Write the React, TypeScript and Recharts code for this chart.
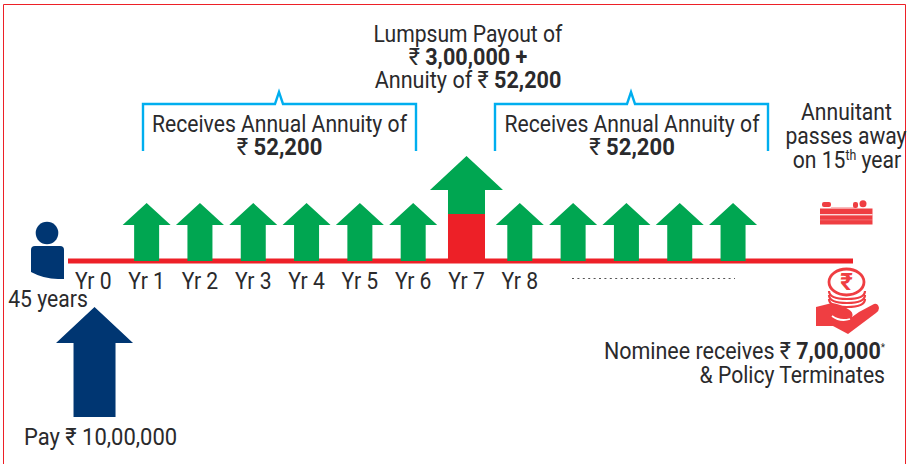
import { ComposedChart, Scatter, XAxis, YAxis } from "recharts";

const W = 911;
const H = 464;
const TEXT = "#2a2a2c";
const RED = "#ed2027";
const ICON_RED = "#ef3e42";
const GREEN = "#00a651";
const NAVY = "#003672";
const BLUE = "#00aeef";
const FONT = "Roboto, sans-serif";

// payout timeline
const annuityYears = [1, 2, 3, 4, 5, 6, 8, 9, 10, 11, 12];
const annuityValues = [52200, 52200, 52200, 52200, 52200, 52200, 52200, 52200, 52200, 52200, 52200];
const lumpsumYears = [7];
const lumpsumValues = [300000];
const lumpsumTotals = [352200];
const premiumYears = [0];
const premiumValues = [1000000];
const tickYears = [0, 1, 2, 3, 4, 5, 6, 7, 8];

const toRows = (xs: number[], ys: number[]) => xs.map((year, i) => ({ year, value: ys[i] }));

const BASE_Y = 261;
const PAY_TOP = 307;

function arrowPath(c: number, top: number, bottom: number, headW: number, headH: number, shaftW: number) {
  return [
    `M${c} ${top}`,
    `L${c + headW / 2} ${top + headH}`,
    `L${c + shaftW / 2} ${top + headH}`,
    `L${c + shaftW / 2} ${bottom}`,
    `L${c - shaftW / 2} ${bottom}`,
    `L${c - shaftW / 2} ${top + headH}`,
    `L${c - headW / 2} ${top + headH}`,
    "Z",
  ].join(" ");
}

// arrows standing on the timeline
function Arrow({ cx, cy, fill, headW, headH, shaftW }: any) {
  return <path d={arrowPath(cx, cy, BASE_Y, headW, headH, shaftW)} fill={fill} />;
}

// the premium hangs below the line, its length comes from the axis
function PayArrow({ cx, cy }: any) {
  return <path d={arrowPath(cx + 1.2, PAY_TOP, PAY_TOP + cy, 77, 36, 42)} fill={NAVY} />;
}

function Block({ cx, cy }: any) {
  return <rect x={cx - 18.5} y={cy} width={37} height={BASE_Y - cy} fill={RED} />;
}

function Caption({ x, y, sx = 0.88, size = 24, anchor = "middle", children }: any) {
  return (
    <text
      transform={`translate(${x} ${y}) scale(${sx} 1)`}
      textAnchor={anchor}
      fontFamily={FONT}
      fontSize={size}
      fill={TEXT}
    >
      {children}
    </text>
  );
}

const B = ({ children }: any) => <tspan fontWeight={700}>{children}</tspan>;

function YearTick({ x, y, payload }: any) {
  return <Caption x={x} y={y + 20}>{`Yr ${payload.value}`}</Caption>;
}

function Bracket({ d }: { d: string }) {
  return <path d={d} fill="none" stroke={BLUE} strokeWidth={2.4} />;
}

export default function App() {
  return (
    <div style={{ position: "fixed", left: 0, top: 0, width: W, height: H, background: "#fff" }}>
      <ComposedChart width={W} height={H} margin={{ top: 0, right: 58, bottom: 173, left: 68 }}>
        <XAxis
          dataKey="year"
          type="number"
          domain={[-0.475, 14.25]}
          ticks={tickYears}
          interval={0}
          height={30}
          tickLine={false}
          axisLine={{ stroke: RED, strokeWidth: 5 }}
          tick={<YearTick />}
        />
        <YAxis hide yAxisId="money" scale="log" domain={[4968, 4968 * Math.pow(10, 261 / 56.77)]} />
        <YAxis hide yAxisId="lump" domain={[0, 1665957]} />
        <YAxis hide yAxisId="paid" reversed domain={[0, 2372727]} />
        <Scatter
          yAxisId="money"
          data={toRows(annuityYears, annuityValues)}
          dataKey="value"
          isAnimationActive={false}
          shape={<Arrow fill={GREEN} headW={48} headH={22} shaftW={25} />}
        />
        <Scatter
          yAxisId="money"
          data={toRows(lumpsumYears, lumpsumTotals)}
          dataKey="value"
          isAnimationActive={false}
          shape={<Arrow fill={GREEN} headW={73} headH={34} shaftW={37} />}
        />
        <Scatter
          yAxisId="lump"
          data={toRows(lumpsumYears, lumpsumValues)}
          dataKey="value"
          isAnimationActive={false}
          shape={<Block />}
        />
        <Scatter
          yAxisId="paid"
          data={toRows(premiumYears, premiumValues)}
          dataKey="value"
          isAnimationActive={false}
          shape={<PayArrow />}
        />

        <path d="M3.5 464V4.5H905.5V464" fill="none" stroke={RED} strokeWidth={1} />
        <Bracket d="M143 151V104H275L279 92L283 104H416V151" />
        <Bracket d="M495 151V104H627L631 92L635 104H768V151" />

        {/* person */}
        <circle cx={47} cy={233} r={11.3} fill={NAVY} />
        <path d="M35 246H60Q64 246 64 250V279H58Q44 279 31 272V250Q31 246 35 246Z" fill={NAVY} />

        <line x1={572} x2={735} y1={278.5} y2={278.5} stroke="#555" strokeWidth={1} strokeDasharray="2 3.4" />

        {/* bed */}
        <g fill={ICON_RED}>
          <rect x={820} y={208.5} width={52.5} height={16} />
          <rect x={822} y={202} width={9} height={5} rx={2} />
          <rect x={853} y={202} width={5} height={6} rx={2} />
          <circle cx={863} cy={203.7} r={3.5} />
        </g>
        <rect x={820} y={214} width={52.5} height={1.4} fill="#fff" opacity={0.8} />
        <rect x={820} y={219.5} width={52.5} height={0.8} fill="#fff" opacity={0.3} />
        <rect x={831} y={207} width={24} height={1} fill={ICON_RED} opacity={0.35} />

        {/* coins and hand */}
        <g fill="none" stroke={ICON_RED} strokeWidth={2.2}>
          <path d="M829 291Q829 299 847 299Q865 299 865 291" />
          <path d="M829 295Q829 303 847 303Q865 303 865 295" />
          <path d="M829 299Q829 307 847 307Q865 307 865 299" />
          <ellipse cx={846.5} cy={282} rx={17.5} ry={13} fill="#fff" strokeWidth={2.8} />
        </g>
        <text x={846.5} y={290} textAnchor="middle" fontFamily={FONT} fontSize={24} fontWeight={700} fill={ICON_RED}>
          ₹
        </text>
        <path
          d="M816 307L832 303Q840 304 848 309Q854 312 852 317L859 312L874 304Q878 303 879 308Q879 311 876 313L848 334L833 326L816 326Z"
          fill={ICON_RED}
        />
        <path d="M832 316Q840 322 850 319" fill="none" stroke="#fff" strokeWidth={1.8} />

        <Caption x={468} y={42}>Lumpsum Payout of</Caption>
        <Caption x={468} y={65} sx={0.9}>₹ <B>3,00,000 +</B></Caption>
        <Caption x={468} y={88} sx={0.9}>Annuity of ₹ <B>52,200</B></Caption>
        <Caption x={279.5} y={131.5}>Receives Annual Annuity of</Caption>
        <Caption x={279.5} y={155} sx={0.92}>₹ <B>52,200</B></Caption>
        <Caption x={632} y={131.5}>Receives Annual Annuity of</Caption>
        <Caption x={632} y={155} sx={0.92}>₹ <B>52,200</B></Caption>
        <Caption x={846.5} y={120}>Annuitant</Caption>
        <Caption x={846} y={144}>passes away</Caption>
        <Caption x={847} y={167.5}>on 15<tspan fontSize={14} dy={-8}>th</tspan><tspan dy={8}> year</tspan></Caption>
        <Caption x={48} y={307}>45 years</Caption>
        <Caption x={100.5} y={445} sx={0.915}>Pay ₹ 10,00,000</Caption>
        <Caption x={885} y={358.5} sx={0.895} anchor="end">Nominee receives ₹ <B>7,00,000</B><tspan fontSize={11} dy={-8}>*</tspan></Caption>
        <Caption x={885} y={382.5} anchor="end">&amp; Policy Terminates</Caption>
      </ComposedChart>
    </div>
  );
}
